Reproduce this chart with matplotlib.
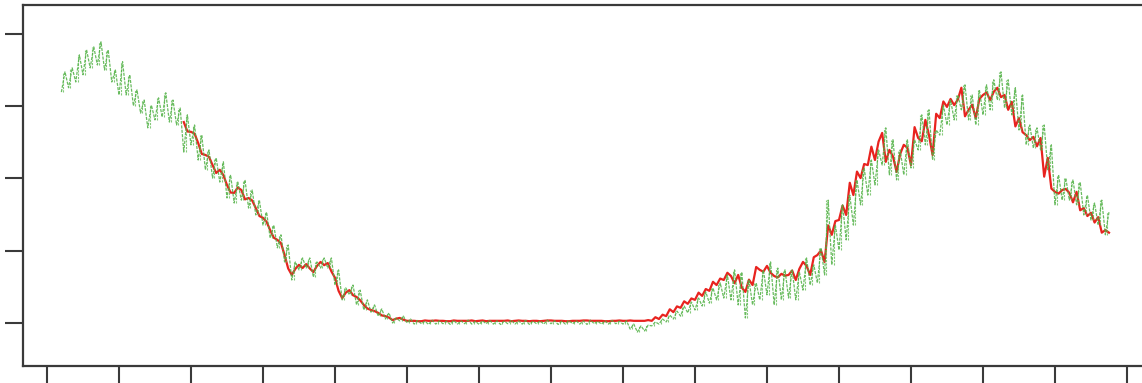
import numpy as np
import matplotlib.pyplot as plt

# first time step of each series
green_start = 2
red_start = 19

# green record: upper and lower edge of the scatter at each step
green_hi = [
    69.5, 70.6, 74.2, 75.6, 76.4, 77.8, 75.6, 70.0, 72.3,
    68.7, 64.5, 61.7, 60.3, 62.3, 63.7, 61.7, 59.5, 57.6, 54.8,
    52.0, 47.9, 45.7, 44.6, 41.0, 39.0, 39.6, 36.8, 34.0, 30.7,
    27.1, 24.4, 21.6, 16.9, 18.0, 18.0, 16.9, 18.0, 18.0, 14.7,
    9.7, 10.5, 9.1, 6.4, 5.0, 3.9, 2.8, 1.4, 1.9, 1.1,
    0.7, 0.5, 0.8, 0.6, 0.5, 0.7, 0.6, 0.8, 0.5, 0.6,
    0.7, 0.6, 0.5, 0.8, 0.6, 0.7, 0.5, 0.6, 0.8, 0.6,
    0.5, 0.7, 0.6, 0.6, 0.8, 0.5, 0.6, 0.7, 0.5,
    0.6, -0.3, -0.8, -0.6, 0.3, 1.1, 2.2, 3.3, 4.7, 5.8, 6.9,
    8.6, 9.7, 11.1, 13.3, 14.7, 14.1, 11.9, 11.1, 14.7, 16.9,
    15.2, 14.7, 14.7, 14.1, 18.0, 16.1, 20.8, 34.0, 27.1, 32.7,
    35.4, 39.6, 42.9, 45.1, 47.9, 54.0, 50.7, 47.9, 50.7, 50.7,
    57.6, 59.0, 53.4, 60.3, 61.7, 63.1, 65.9, 63.1, 64.5, 65.9,
    67.3, 69.5, 67.3, 65.1, 63.1, 54.8, 54.0, 54.8, 49.3, 41.0,
    40.1, 39.6, 39.0, 35.4, 33.2, 34.0, 30.7,
]
green_lo = [
    63.9, 65.1, 66.7, 68.7, 70.6, 71.4, 70.0, 66.7, 63.1,
    63.1, 60.1, 58.1, 54.0, 56.2, 57.0, 55.6, 54.8, 47.3, 49.3,
    45.1, 42.4, 40.1, 39.0, 34.6, 33.2, 34.0, 31.8, 29.9, 27.1,
    23.5, 20.8, 16.9, 11.9, 14.7, 15.2, 12.7, 15.2, 15.2, 10.5,
    6.4, 7.8, 5.0, 3.6, 3.0, 1.9, 1.1, 0.0, 0.6, 0.0,
    -0.3, -0.2, -0.4, -0.3, -0.2, -0.4, -0.3, -0.2, -0.3, -0.4,
    -0.2, -0.3, -0.4, -0.2, -0.3, -0.3, -0.4, -0.2, -0.3, -0.2,
    -0.4, -0.3, -0.2, -0.3, -0.4, -0.2, -0.3, -0.3, -0.2,
    -0.3, -1.7, -2.5, -2.2, -0.8, -0.3, 0.3, 1.1, 1.9, 2.8, 3.6,
    4.7, 5.5, 6.4, 6.9, 6.4, 5.0, 1.4, 5.0, 6.4, 7.8,
    5.0, 6.4, 6.9, 6.4, 9.1, 10.5, 11.1, 13.3, 16.1, 20.2,
    23.0, 27.1, 32.7, 35.4, 38.2, 43.7, 41.0, 39.6, 41.0, 42.9,
    47.9, 49.3, 45.1, 52.0, 54.8, 56.2, 59.0, 56.2, 54.8, 57.6,
    59.0, 61.7, 59.5, 57.6, 53.4, 49.3, 48.4, 47.9, 42.4, 32.7,
    34.0, 34.0, 32.7, 29.9, 28.5, 27.1, 24.4,
]

# red record, read at whole and half steps
red_vals = [
    55.6, 52.9, 49.8, 46.5, 43.7, 42.4, 38.2, 36.0, 36.8, 34.6,
    31.8, 29.1, 25.7, 23.0, 18.8, 13.3, 16.1, 16.3, 14.1, 16.9,
    16.6, 12.5, 6.9, 9.1, 7.2, 5.0, 3.6, 2.8, 1.9, 0.8,
    1.4, 0.6, 0.6, 0.5, 0.6, 0.7, 0.6, 0.5, 0.6, 0.6,
    0.7, 0.6, 0.5, 0.6, 0.6, 0.7, 0.6, 0.6, 0.5, 0.6,
    0.6, 0.7, 0.6, 0.5, 0.6, 0.6, 0.7, 0.6, 0.6, 0.5,
    0.6, 0.6, 0.7, 0.6, 0.6, 0.6, 1.1, 1.9, 3.0, 4.2,
    5.3, 6.4, 7.5, 8.9, 10.5, 11.9, 13.0, 13.3, 8.6, 10.5,
    14.7, 15.8, 13.0, 13.6, 13.3, 11.9, 16.9, 13.3, 18.8, 16.9,
    24.4, 28.5, 29.9, 35.4, 40.1, 43.7, 45.1, 52.6, 47.9, 41.8,
    49.3, 43.7, 51.2, 56.2, 46.5, 56.7, 59.8, 60.3, 65.1, 59.0,
    56.7, 63.1, 61.7, 65.1, 63.1, 61.2, 56.7, 52.0, 51.5, 51.2,
    45.7, 36.3, 36.8, 36.0, 36.3, 31.8, 30.5, 29.3, 25.7,
]
red_half = [
    53.0, 52.4, 46.8, 46.0, 41.5, 40.9, 36.1, 37.5, 34.2, 33.9,
    29.6, 28.0, 23.6, 22.1, 15.1, 15.0, 15.2, 15.1, 15.8, 16.0,
    14.3, 8.9, 8.4, 7.7, 6.3, 4.0, 3.3, 2.1, 1.5, 1.2,
    0.9, 0.6, 0.5, 0.7, 0.6, 0.6, 0.5, 0.7, 0.6, 0.6,
    0.5, 0.7, 0.6, 0.6, 0.6, 0.5, 0.7, 0.6, 0.6, 0.5,
    0.7, 0.6, 0.6, 0.5, 0.6, 0.7, 0.6, 0.6, 0.5, 0.6,
    0.7, 0.6, 0.6, 0.6, 0.8, 1.6, 2.3, 3.8, 4.6, 6.0,
    6.8, 8.4, 9.4, 11.4, 12.3, 13.9, 11.0, 9.8, 12.0, 15.5,
    14.2, 13.9, 12.6, 13.1, 14.5, 15.0, 15.8, 18.2, 20.1, 27.0,
    28.2, 32.5, 38.8, 41.9, 44.0, 48.8, 50.2, 44.6, 46.1, 46.8,
    48.5, 54.2, 50.3, 52.0, 57.9, 61.3, 62.0, 61.8, 57.2, 60.4,
    62.0, 63.8, 64.0, 62.5, 59.0, 54.4, 52.8, 50.6, 48.9, 40.5,
    37.2, 35.8, 37.1, 33.4, 31.2, 29.6, 27.8, 25.0, 25.0,
]

x_ticks = list(range(0, 151, 10))
y_ticks = [0, 20, 40, 60, 80]

# green samples alternate between the lower and upper edge
gx = np.arange(green_start, green_start + len(green_hi))
green_x = np.column_stack([gx, gx + 0.5]).ravel()
green_y = np.column_stack([green_lo, green_hi]).ravel()

rx = np.arange(red_start, red_start + len(red_vals))
red_x = np.column_stack([rx, rx + 0.5]).ravel()
red_y = np.column_stack([red_vals, red_half]).ravel()

fig = plt.figure(figsize=(11.42, 3.83), dpi=100)
ax = fig.add_axes([23 / 1142, 17 / 383, 1150 / 1142, 361 / 383])

ax.plot(red_x, red_y, color="#e8231f", lw=1.6, zorder=2)
ax.vlines(gx + 0.25, green_lo, green_hi, color="#5cb84e", lw=0.8,
          linestyles=(0, (2, 1)), alpha=0.75, zorder=3)
ax.plot(green_x, green_y, color="#4fb043", lw=0.9, ls=(0, (2.5, 1)),
        alpha=0.85, zorder=3)

ax.set_xlim(-3.33, -3.33 + 1150 / 7.2)
ax.set_ylim(-11.9, 88.0)
ax.set_xticks(x_ticks)
ax.set_yticks(y_ticks)
ax.tick_params(axis="both", direction="out", width=1.5, color="#3a3a3a",
               labelleft=False, labelbottom=False)
ax.tick_params(axis="y", length=13)
ax.tick_params(axis="x", length=15)

for side in ("left", "top", "bottom"):
    ax.spines[side].set_color("#3a3a3a")
    ax.spines[side].set_linewidth(1.6)
ax.spines["right"].set_visible(False)

fig.savefig("out.png", dpi=100)
plt.close(fig)
